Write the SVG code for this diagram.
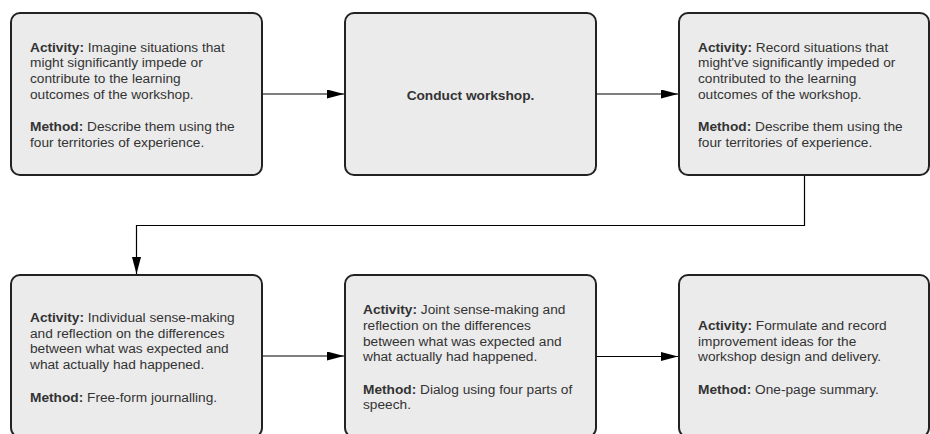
<svg xmlns="http://www.w3.org/2000/svg" width="930" height="434" viewBox="0 0 930 434">
<style>
.box{fill:#ebebeb;stroke:#222;stroke-width:2}
.t{font-family:"Liberation Sans",Arial,sans-serif;font-size:13.7px;fill:#333}
.b{font-weight:bold}
.c{fill:none;stroke:#000;stroke-width:1.2}
</style>
<defs>
<marker id="ah" markerUnits="userSpaceOnUse" markerWidth="18" markerHeight="10" refX="17" refY="4.5" orient="auto">
<path d="M0,0 L17,4.5 L0,9 z" fill="#000"/>
</marker>
</defs>
<rect width="930" height="434" fill="#fff"/>
<g id="connectors">
<line class="c" x1="262" y1="94" x2="344" y2="94" marker-end="url(#ah)"/>
<line class="c" x1="596" y1="94" x2="678" y2="94" marker-end="url(#ah)"/>
<polyline class="c" points="804.5,175 804.5,225.5 136.5,225.5 136.5,274" marker-end="url(#ah)"/>
<line class="c" x1="262" y1="356" x2="344" y2="356" marker-end="url(#ah)"/>
<line class="c" x1="596" y1="356.5" x2="678" y2="356.5" marker-end="url(#ah)"/>
</g>
<g id="n1">
<rect class="box" x="11" y="13" width="251" height="162" rx="9"/>
<text class="t"><tspan x="30" y="51.7"><tspan class="b">Activity:</tspan> Imagine situations that</tspan><tspan x="30" y="67.3">might significantly impede or</tspan><tspan x="30" y="82.9">contribute to the learning</tspan><tspan x="30" y="98.5">outcomes of the workshop.</tspan><tspan x="30" y="131"><tspan class="b">Method:</tspan> Describe them using the</tspan><tspan x="30" y="146.6">four territories of experience.</tspan></text>
</g>
<g id="n2">
<rect class="box" x="345" y="13" width="251" height="162" rx="9"/>
<text class="t b" x="470.5" y="99.5" text-anchor="middle">Conduct workshop.</text>
</g>
<g id="n3">
<rect class="box" x="679" y="13" width="250" height="162" rx="9"/>
<text class="t"><tspan x="698" y="51.7"><tspan class="b">Activity:</tspan> Record situations that</tspan><tspan x="698" y="67.3">might've significantly impeded or</tspan><tspan x="698" y="82.9">contributed to the learning</tspan><tspan x="698" y="98.5">outcomes of the workshop.</tspan><tspan x="698" y="131"><tspan class="b">Method:</tspan> Describe them using the</tspan><tspan x="698" y="146.6">four territories of experience.</tspan></text>
</g>
<g id="n4">
<rect class="box" x="11" y="275" width="251" height="162" rx="9"/>
<text class="t"><tspan x="30" y="321.7"><tspan class="b">Activity:</tspan> Individual sense-making</tspan><tspan x="30" y="337.5">and reflection on the differences</tspan><tspan x="30" y="353.3">between what was expected and</tspan><tspan x="30" y="369.1">what actually had happened.</tspan><tspan x="30" y="401.7"><tspan class="b">Method:</tspan> Free-form journalling.</tspan></text>
</g>
<g id="n5">
<rect class="box" x="345" y="275" width="251" height="162" rx="9"/>
<text class="t"><tspan x="363" y="314"><tspan class="b">Activity:</tspan> Joint sense-making and</tspan><tspan x="363" y="329.8">reflection on the differences</tspan><tspan x="363" y="345.6">between what was expected and</tspan><tspan x="363" y="361.2">what actually had happened.</tspan><tspan x="363" y="393.5"><tspan class="b">Method:</tspan> Dialog using four parts of</tspan><tspan x="363" y="409.2">speech.</tspan></text>
</g>
<g id="n6">
<rect class="box" x="679" y="275" width="250" height="162" rx="9"/>
<text class="t"><tspan x="698" y="330"><tspan class="b">Activity:</tspan> Formulate and record</tspan><tspan x="698" y="345.7">improvement ideas for the</tspan><tspan x="698" y="361.2">workshop design and delivery.</tspan><tspan x="698" y="393.5"><tspan class="b">Method:</tspan> One-page summary.</tspan></text>
</g>
</svg>
